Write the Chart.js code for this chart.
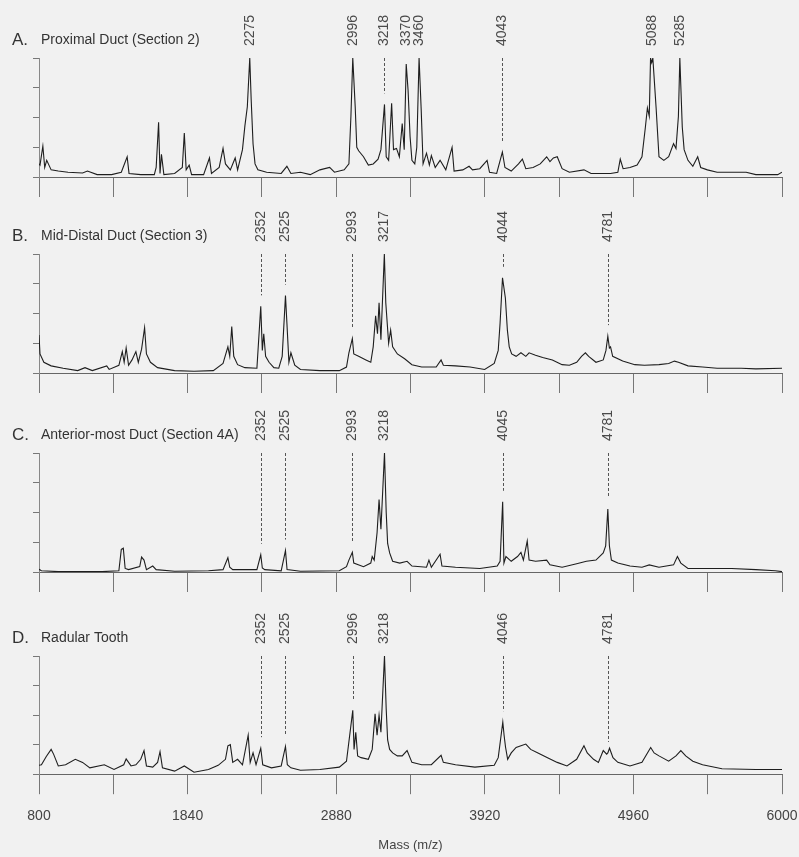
<!DOCTYPE html>
<html>
<head>
<meta charset="utf-8">
<script src="https://cdn.jsdelivr.net/npm/chart.js@4.4.1/dist/chart.umd.min.js"></script>
<style>
  html, body { margin: 0; padding: 0; background: #f1f1f1; }
  #page { position: relative; width: 799px; height: 857px; overflow: hidden; }
  #page canvas { position: absolute; left: 0; }
</style>
</head>
<body>
<div id="page">
  <canvas id="cA" width="799" height="197" style="top:0px"></canvas>
  <canvas id="cB" width="799" height="197" style="top:196px"></canvas>
  <canvas id="cC" width="799" height="197" style="top:395px"></canvas>
  <canvas id="cD" width="799" height="259" style="top:598px"></canvas>
</div>
<script>
// A. Proximal Duct (Section 2)
const massA = [800, 807, 827, 840, 854, 885, 935, 1003, 1105, 1139, 1207, 1308, 1376, 1417, 1430, 1512, 1607, 1620, 1637, 1647,
  1657, 1674, 1749, 1803, 1817, 1830, 1851, 1868, 1952, 1993, 2007, 2061, 2088, 2105, 2139, 2173, 2190, 2224, 2241, 2258,
  2275, 2285, 2298, 2312, 2332, 2393, 2495, 2535, 2563, 2630, 2698, 2766, 2834, 2868, 2936, 2969, 2983, 2996, 3013, 3024,
  3037, 3071, 3105, 3139, 3173, 3193, 3218, 3230, 3247, 3268, 3281, 3302, 3322, 3342, 3356, 3370, 3383, 3397, 3410, 3430,
  3444, 3460, 3475, 3488, 3512, 3532, 3546, 3573, 3607, 3647, 3691, 3705, 3766, 3810, 3834, 3885, 3936, 3953, 4003, 4043,
  4061, 4105, 4156, 4183, 4207, 4258, 4308, 4353, 4376, 4400, 4427, 4461, 4512, 4614, 4664, 4800, 4851, 4868, 4888, 4936,
  4986, 5020, 5044, 5058, 5071, 5080, 5088, 5096, 5119, 5139, 5173, 5207, 5241, 5258, 5275, 5285, 5302, 5315, 5342, 5376,
  5410, 5431, 5478, 5546, 5749, 5817, 5970, 6000];
const intA = [11, 10, 26, 8, 14, 6, 5, 4, 3.4, 5, 2, 2, 4, 17, 3, 2, 2, 8, 46, 3,
  19, 2, 3, 8, 37, 6, 10, 2, 2, 16, 3, 8, 24, 11, 6, 16, 6, 23, 43, 59,
  100, 65, 28, 11, 6, 4, 3, 9, 3, 4, 2, 6, 8, 4, 6, 11, 51, 100, 59, 25,
  22, 17, 10, 11, 15, 23, 61, 17, 14, 62, 23, 24, 17, 45, 23, 95, 73, 34, 14, 11,
  25, 100, 56, 11, 20, 10, 18, 8, 14, 6, 25, 5, 6, 9, 6, 7, 14, 4, 3, 21,
  8, 5, 11, 15, 7, 8, 11, 17, 13, 16, 17, 7, 4, 6, 3, 3, 4, 15, 7, 8,
  10, 17, 42, 58, 51, 100, 96, 100, 58, 17, 14, 17, 28, 24, 51, 100, 42, 23, 14, 9,
  17, 8, 6, 4, 4, 2, 2, 4];
const peaksA = [2275, 2996, 3218, 3370, 3460, 4043, 5088, 5285];

// B. Mid-Distal Duct (Section 3)
const massB = [800, 807, 834, 885, 969, 1071, 1122, 1173, 1274, 1291, 1359, 1383, 1396, 1410, 1427, 1451, 1478, 1495, 1518, 1539,
  1552, 1580, 1630, 1749, 1885, 2020, 2088, 2122, 2135, 2149, 2163, 2190, 2241, 2325, 2352, 2363, 2373, 2386, 2410, 2444,
  2478, 2502, 2525, 2535, 2549, 2563, 2590, 2630, 2766, 2902, 2952, 2969, 2993, 3003, 3037, 3088, 3122, 3139, 3156, 3169,
  3180, 3193, 3217, 3227, 3247, 3261, 3275, 3308, 3359, 3410, 3478, 3580, 3614, 3630, 3715, 3817, 3919, 3986, 4014, 4027,
  4044, 4064, 4078, 4091, 4108, 4139, 4173, 4207, 4230, 4275, 4325, 4393, 4461, 4512, 4563, 4597, 4624, 4647, 4698, 4749,
  4768, 4781, 4792, 4800, 4815, 4885, 4970, 5037, 5139, 5207, 5247, 5275, 5342, 5444, 5546, 5715, 5817, 6000];
const intB = [32, 16, 9, 6, 4, 2, 4.5, 2, 6, 3, 6.5, 18, 9, 21, 6.5, 11, 18, 9, 20, 38,
  16, 9, 4.5, 2, 1.5, 2, 8, 22, 14, 39, 14, 7, 4.5, 4, 56, 19, 33, 14, 9, 4.5,
  4, 14, 65, 42, 9, 17, 6.5, 3, 2, 2, 5, 17, 29, 16, 14, 11, 9, 22, 48, 33,
  59, 28, 100, 59, 25, 36, 22, 16, 12, 7, 5, 5, 11, 6.5, 6, 5, 3, 8, 19, 42,
  80, 63, 36, 22, 16, 14, 17, 14, 17, 15, 13, 11, 7, 6.5, 9, 14, 17, 14, 9, 11,
  19, 31, 21, 22, 14, 10, 7, 6.5, 7, 8, 10, 9, 6, 5, 4, 4, 3.5, 4];
const peaksB = [2352, 2525, 2993, 3217, 4044, 4781];

// C. Anterior-most Duct (Section 4A)
const massC = [800, 817, 935, 1241, 1359, 1376, 1390, 1403, 1427, 1505, 1518, 1535, 1552, 1596, 1620, 1749, 1986, 2088, 2122, 2135,
  2156, 2325, 2352, 2363, 2380, 2495, 2525, 2536, 2630, 2902, 2952, 2969, 2993, 3003, 3071, 3122, 3132, 3146, 3166, 3180,
  3193, 3218, 3230, 3240, 3254, 3275, 3325, 3376, 3410, 3512, 3529, 3546, 3607, 3620, 3715, 3885, 4007, 4027, 4045, 4054,
  4068, 4105, 4149, 4173, 4190, 4217, 4230, 4275, 4353, 4376, 4461, 4563, 4631, 4698, 4749, 4766, 4781, 4792, 4806, 4851,
  4936, 5020, 5071, 5139, 5241, 5268, 5292, 5342, 5648, 5817, 5953, 6000];
const intC = [2.3, 1, 0.3, 0.3, 1, 19, 20, 3, 2, 4.5, 12.5, 10, 2, 5, 2, 0.6, 1, 2, 12, 4,
  2, 2, 14.5, 3.4, 2, 1, 18, 2, 0.6, 1, 4.5, 10, 16.5, 7.5, 4.5, 7.5, 13, 10, 33, 61,
  36, 100, 50, 24, 16, 9, 7.5, 9, 5, 4, 10, 4, 15, 5, 4, 3, 5, 9, 59, 7.5,
  13, 9, 13, 16.5, 10, 26, 10, 9, 10, 6, 4, 7, 9, 10, 16, 22, 53, 22, 10, 7.5,
  5, 4, 6, 4, 6, 13, 7.5, 3, 3, 2, 1, 0.3];
const peaksC = [2352, 2525, 2993, 3218, 4045, 4781];

// D. Radular Tooth
const massD = [800, 817, 851, 885, 902, 935, 986, 1054, 1105, 1156, 1257, 1325, 1393, 1410, 1444, 1478, 1512, 1535, 1552, 1596,
  1630, 1647, 1664, 1749, 1817, 1885, 1986, 2054, 2105, 2122, 2139, 2156, 2190, 2224, 2264, 2278, 2298, 2319, 2352, 2366,
  2427, 2495, 2525, 2538, 2563, 2630, 2766, 2902, 2952, 2996, 3005, 3017, 3030, 3054, 3105, 3132, 3152, 3166, 3180, 3193,
  3218, 3230, 3240, 3254, 3275, 3308, 3342, 3376, 3410, 3478, 3546, 3614, 3630, 3715, 3851, 3986, 4014, 4046, 4055, 4065,
  4080, 4105, 4139, 4173, 4207, 4241, 4292, 4359, 4427, 4495, 4563, 4614, 4637, 4681, 4715, 4749, 4773, 4781, 4793, 4817,
  4851, 4936, 5020, 5081, 5105, 5139, 5207, 5258, 5292, 5326, 5376, 5444, 5580, 5817, 5970, 6000];
const intD = [7.5, 8, 15, 21, 17, 7, 8, 12.6, 10, 5.4, 8, 4, 8, 13, 7, 8, 12.6, 20, 7, 6,
  10, 19, 5.4, 2.6, 7, 1.7, 4, 7.5, 12.6, 24, 25, 10, 12.6, 8, 33, 10, 18, 8, 22, 8,
  5.4, 7, 23.5, 8, 5.4, 3.4, 4, 6, 11, 54, 21, 35.5, 15.5, 14, 12.6, 21, 51, 33, 50, 35.5,
  100, 55, 29, 21, 18, 15.5, 15.5, 20, 10, 8, 8, 16, 10, 8, 6, 7.5, 14, 44, 33, 23,
  12.6, 18, 22.6, 24, 25.5, 21, 18, 14, 10, 7, 12.6, 24, 18, 12.6, 10, 20, 17, 18, 22, 14,
  10, 7, 10, 22.6, 18, 15.5, 11, 15.5, 20, 15.5, 11, 8, 4.6, 4, 4, 4];
const peaksD = [2352, 2525, 2996, 3218, 4046, 4781];

const xTicks = [800, 1840, 2880, 3920, 4960, 6000];

const panels = [
  { id: 'cA', letter: 'A.', name: 'Proximal Duct (Section 2)', mass: massA, inten: intA, peaks: peaksA },
  { id: 'cB', letter: 'B.', name: 'Mid-Distal Duct (Section 3)', mass: massB, inten: intB, peaks: peaksB },
  { id: 'cC', letter: 'C.', name: 'Anterior-most Duct (Section 4A)', mass: massC, inten: intC, peaks: peaksC },
  { id: 'cD', letter: 'D.', name: 'Radular Tooth', mass: massD, inten: intD, peaks: peaksD }
];

Chart.defaults.font.family = '"Liberation Sans", Arial, sans-serif';
Chart.defaults.color = '#444';

function labelPlugin(p) {
  return {
    id: 'peakLabels',
    afterDatasetsDraw(chart) {
      const { ctx, chartArea, scales } = chart;
      const top = chartArea.top;
      ctx.save();
      ctx.fillStyle = '#333';
      ctx.textBaseline = 'middle';
      ctx.font = '17px "Liberation Sans", Arial, sans-serif';
      ctx.fillText(p.letter, 12, top - 18);
      ctx.font = '14px "Liberation Sans", Arial, sans-serif';
      ctx.fillText(p.name, 41, top - 18);

      ctx.font = '14px "Liberation Sans", Arial, sans-serif';
      ctx.fillStyle = '#4a4a4a';
      ctx.strokeStyle = '#555';
      ctx.lineWidth = 1;
      p.peaks.forEach(m => {
        const px = Math.round(scales.x.getPixelForValue(m)) + 0.5;
        const i = p.mass.indexOf(m);
        const v = i >= 0 ? p.inten[i] : 0;
        const yEnd = scales.y.getPixelForValue(v) - 11;
        if (yEnd - top > 5) {
          ctx.setLineDash([3, 2]);
          ctx.beginPath();
          ctx.moveTo(px, top);
          ctx.lineTo(px, yEnd);
          ctx.stroke();
          ctx.setLineDash([]);
        }
        ctx.save();
        ctx.translate(px, top - 12);
        ctx.rotate(-Math.PI / 2);
        ctx.textAlign = 'left';
        ctx.fillText(String(m), 0, 0);
        ctx.restore();
      });
      ctx.restore();
    }
  };
}

panels.forEach((p, k) => {
  const last = k === panels.length - 1;
  const pts = p.mass.map((m, i) => ({ x: m, y: p.inten[i] }));
  new Chart(document.getElementById(p.id), {
    type: 'line',
    data: {
      datasets: [{
        data: pts,
        borderColor: '#1e1e1e',
        borderWidth: 1.1,
        pointRadius: 0,
        tension: 0,
        fill: false
      }]
    },
    options: {
      responsive: false,
      animation: false,
      layout: { padding: { top: 58, left: 33, right: 17, bottom: last ? 5 : 0 } },
      plugins: { legend: { display: false }, tooltip: { enabled: false } },
      scales: {
        x: {
          type: 'linear',
          min: 800,
          max: 6000,
          // end labels may hang past the plot; keep all panels the same width
          afterFit: s => { s.paddingLeft = 0; s.paddingRight = 0; },
          ticks: {
            stepSize: 520,
            autoSkip: false,
            maxRotation: 0,
            display: last,
            padding: 14,
            color: '#444',
            font: { size: 14 },
            callback: v => xTicks.includes(v) ? String(v) : ''
          },
          grid: { drawOnChartArea: false, tickLength: 20, color: '#777' },
          border: { color: '#666' },
          title: {
            display: last,
            text: 'Mass (m/z)',
            color: '#444',
            font: { size: 13, lineHeight: 1 },
            padding: { top: 0, bottom: 0 }
          }
        },
        y: {
          min: 0,
          max: 100,
          ticks: { stepSize: 25, display: false },
          grid: { drawOnChartArea: false, tickLength: 6, color: '#777' },
          border: { color: '#888' }
        }
      }
    },
    plugins: [labelPlugin(p)]
  });
});
</script>
</body>
</html>
